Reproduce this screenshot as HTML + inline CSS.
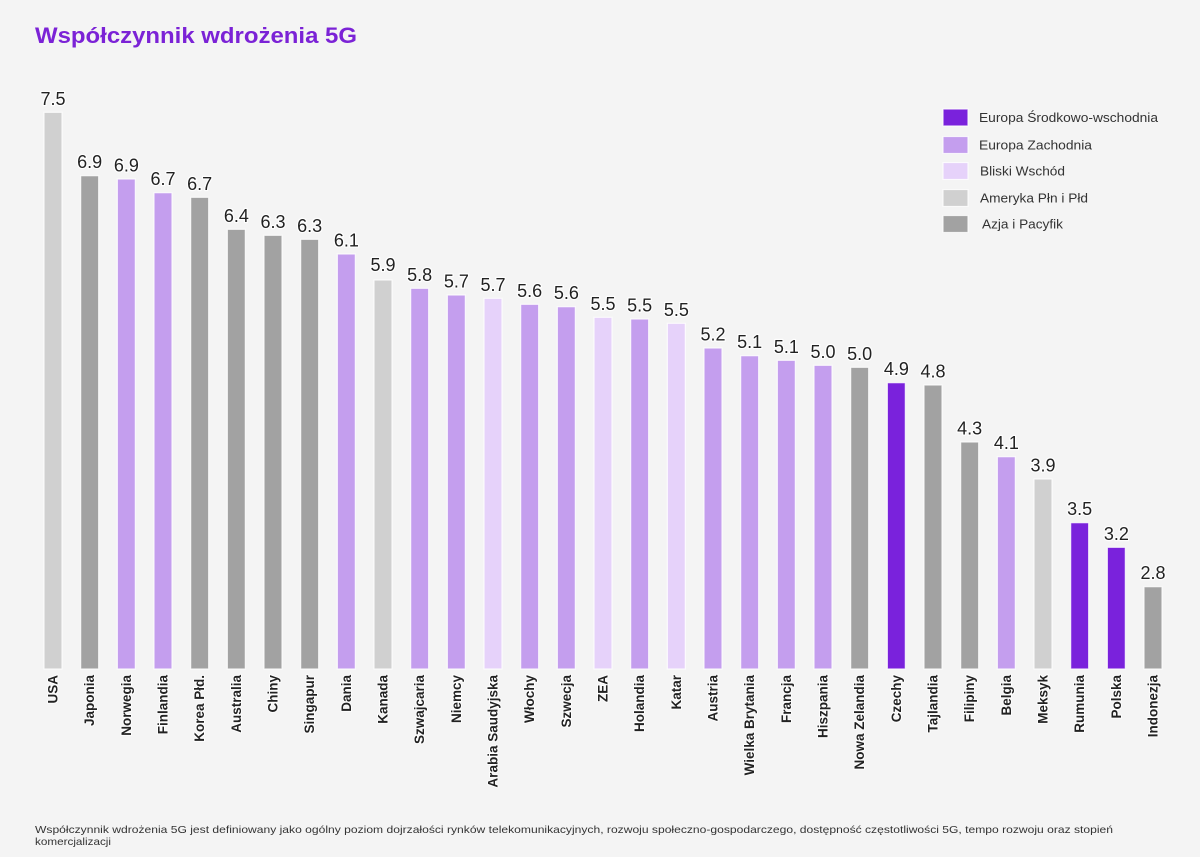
<!DOCTYPE html>
<html>
<head>
<meta charset="utf-8">
<style>
  html, body { margin: 0; padding: 0; background: #f4f4f4; }
  svg { display: block; }
  .t { font-family: "Liberation Sans", Arial, sans-serif; }
  .v { font-size: 18px; fill: #222; text-anchor: middle; stroke: #fff; stroke-width: 2.5px; stroke-opacity: 0.85; paint-order: stroke; stroke-linejoin: round; }
  .c { font-size: 13.5px; font-weight: bold; fill: #222; text-anchor: end; stroke: #fff; stroke-width: 2px; stroke-opacity: 0.8; paint-order: stroke; stroke-linejoin: round; }
  .lg { font-size: 12.5px; fill: #333; }
  .fn { font-size: 10.5px; fill: #333; }
  .srod { fill: #7a22dc; }
  .zach { fill: #c49eee; }
  .blis { fill: #e6d2fa; }
  .amer { fill: #d0d0d0; }
  .azja { fill: #a2a2a2; }
  .bar { stroke: #ffffff; stroke-width: 1.2px; stroke-opacity: 0.8; }
</style>
</head>
<body>
<svg width="1200" height="857" viewBox="0 0 1200 857" xmlns="http://www.w3.org/2000/svg">
  <rect x="0" y="0" width="1200" height="857" fill="#f4f4f4"/>

  <!-- Title -->
  <text class="t" x="35" y="43" font-size="22" font-weight="bold" fill="#7b22d6" textLength="322" lengthAdjust="spacingAndGlyphs">Współczynnik wdrożenia 5G</text>

  <!-- Bars -->
  <g class="bar">
    <rect class="amer" x="44" y="112.3" width="18" height="556.7"/>
    <rect class="azja" x="80.67" y="175.7" width="18" height="493.3"/>
    <rect class="zach" x="117.33" y="179" width="18" height="490"/>
    <rect class="zach" x="154" y="192.7" width="18" height="476.3"/>
    <rect class="azja" x="190.67" y="197.3" width="18" height="471.7"/>
    <rect class="azja" x="227.33" y="229.3" width="18" height="439.7"/>
    <rect class="azja" x="264" y="235.3" width="18" height="433.7"/>
    <rect class="azja" x="300.67" y="239.3" width="18" height="429.7"/>
    <rect class="zach" x="337.33" y="254" width="18" height="415"/>
    <rect class="amer" x="374" y="280" width="18" height="389"/>
    <rect class="zach" x="410.67" y="288.3" width="18" height="380.7"/>
    <rect class="zach" x="447.33" y="295" width="18" height="374"/>
    <rect class="blis" x="484" y="298.3" width="18" height="370.7"/>
    <rect class="zach" x="520.67" y="304.3" width="18" height="364.7"/>
    <rect class="zach" x="557.33" y="306.7" width="18" height="362.3"/>
    <rect class="blis" x="594" y="317.3" width="18" height="351.7"/>
    <rect class="zach" x="630.67" y="319" width="18" height="350"/>
    <rect class="blis" x="667.33" y="323.3" width="18" height="345.7"/>
    <rect class="zach" x="704" y="348" width="18" height="321"/>
    <rect class="zach" x="740.67" y="355.7" width="18" height="313.3"/>
    <rect class="zach" x="777.33" y="360.3" width="18" height="308.7"/>
    <rect class="zach" x="814" y="365.3" width="18" height="303.7"/>
    <rect class="azja" x="850.67" y="367.3" width="18" height="301.7"/>
    <rect class="srod" x="887.33" y="382.7" width="18" height="286.3"/>
    <rect class="azja" x="924" y="385" width="18" height="284"/>
    <rect class="azja" x="960.67" y="442" width="18" height="227"/>
    <rect class="zach" x="997.33" y="456.7" width="18" height="212.3"/>
    <rect class="amer" x="1034" y="479" width="18" height="190"/>
    <rect class="srod" x="1070.67" y="522.7" width="18" height="146.3"/>
    <rect class="srod" x="1107.33" y="547.3" width="18" height="121.7"/>
    <rect class="azja" x="1144" y="586.7" width="18" height="82.3"/>
  </g>

  <!-- Value labels -->
  <g class="t v">
    <text x="53" y="104.8">7.5</text>
    <text x="89.67" y="168.2">6.9</text>
    <text x="126.33" y="171.5">6.9</text>
    <text x="163" y="185.2">6.7</text>
    <text x="199.67" y="189.8">6.7</text>
    <text x="236.33" y="221.8">6.4</text>
    <text x="273" y="227.8">6.3</text>
    <text x="309.67" y="231.8">6.3</text>
    <text x="346.33" y="246.5">6.1</text>
    <text x="383" y="271">5.9</text>
    <text x="419.67" y="280.8">5.8</text>
    <text x="456.33" y="287.5">5.7</text>
    <text x="493" y="290.8">5.7</text>
    <text x="529.67" y="296.8">5.6</text>
    <text x="566.33" y="299.2">5.6</text>
    <text x="603" y="309.8">5.5</text>
    <text x="639.67" y="311.5">5.5</text>
    <text x="676.33" y="315.8">5.5</text>
    <text x="713" y="340.5">5.2</text>
    <text x="749.67" y="348.2">5.1</text>
    <text x="786.33" y="352.8">5.1</text>
    <text x="823" y="357.8">5.0</text>
    <text x="859.67" y="359.8">5.0</text>
    <text x="896.33" y="375.2">4.9</text>
    <text x="933" y="377.5">4.8</text>
    <text x="969.67" y="434.5">4.3</text>
    <text x="1006.33" y="449.2">4.1</text>
    <text x="1043" y="471.5">3.9</text>
    <text x="1079.67" y="515.2">3.5</text>
    <text x="1116.33" y="539.8">3.2</text>
    <text x="1153" y="579.2">2.8</text>
  </g>

  <!-- Category labels -->
  <g class="t c">
    <text transform="translate(57.5,675) rotate(-90)">USA</text>
    <text transform="translate(94.17,675) rotate(-90)">Japonia</text>
    <text transform="translate(130.83,675) rotate(-90)">Norwegia</text>
    <text transform="translate(167.5,675) rotate(-90)">Finlandia</text>
    <text transform="translate(204.17,675) rotate(-90)">Korea Płd.</text>
    <text transform="translate(240.83,675) rotate(-90)">Australia</text>
    <text transform="translate(277.5,675) rotate(-90)">Chiny</text>
    <text transform="translate(314.17,675) rotate(-90)">Singapur</text>
    <text transform="translate(350.83,675) rotate(-90)">Dania</text>
    <text transform="translate(387.5,675) rotate(-90)">Kanada</text>
    <text transform="translate(424.17,675) rotate(-90)">Szwajcaria</text>
    <text transform="translate(460.83,675) rotate(-90)">Niemcy</text>
    <text transform="translate(497.5,675) rotate(-90)">Arabia Saudyjska</text>
    <text transform="translate(534.17,675) rotate(-90)">Włochy</text>
    <text transform="translate(570.83,675) rotate(-90)">Szwecja</text>
    <text transform="translate(607.5,675) rotate(-90)">ZEA</text>
    <text transform="translate(644.17,675) rotate(-90)">Holandia</text>
    <text transform="translate(680.83,675) rotate(-90)">Katar</text>
    <text transform="translate(717.5,675) rotate(-90)">Austria</text>
    <text transform="translate(754.17,675) rotate(-90)">Wielka Brytania</text>
    <text transform="translate(790.83,675) rotate(-90)">Francja</text>
    <text transform="translate(827.5,675) rotate(-90)">Hiszpania</text>
    <text transform="translate(864.17,675) rotate(-90)">Nowa Zelandia</text>
    <text transform="translate(900.83,675) rotate(-90)">Czechy</text>
    <text transform="translate(937.5,675) rotate(-90)">Tajlandia</text>
    <text transform="translate(974.17,675) rotate(-90)">Filipiny</text>
    <text transform="translate(1010.83,675) rotate(-90)">Belgia</text>
    <text transform="translate(1047.5,675) rotate(-90)">Meksyk</text>
    <text transform="translate(1084.17,675) rotate(-90)">Rumunia</text>
    <text transform="translate(1120.83,675) rotate(-90)">Polska</text>
    <text transform="translate(1157.5,675) rotate(-90)">Indonezja</text>
  </g>

  <!-- Legend -->
  <g class="bar">
    <rect class="srod" x="943" y="109" width="25" height="17"/>
    <rect class="zach" x="943" y="136.5" width="25" height="17"/>
    <rect class="blis" x="943" y="162.5" width="25" height="17"/>
    <rect class="amer" x="943" y="189.5" width="25" height="17"/>
    <rect class="azja" x="943" y="215.5" width="25" height="17"/>
  </g>
  <g class="t lg">
    <text x="979" y="122" textLength="179" lengthAdjust="spacingAndGlyphs">Europa Środkowo-wschodnia</text>
    <text x="979" y="149.5" textLength="113" lengthAdjust="spacingAndGlyphs">Europa Zachodnia</text>
    <text x="980" y="175.5" textLength="85" lengthAdjust="spacingAndGlyphs">Bliski Wschód</text>
    <text x="980" y="202.5" textLength="108" lengthAdjust="spacingAndGlyphs">Ameryka Płn i Płd</text>
    <text x="982" y="228.5" textLength="81" lengthAdjust="spacingAndGlyphs">Azja i Pacyfik</text>
  </g>

  <!-- Footnote -->
  <g class="t fn">
    <text x="35" y="833" textLength="1078" lengthAdjust="spacingAndGlyphs">Współczynnik wdrożenia 5G jest definiowany jako ogólny poziom dojrzałości rynków telekomunikacyjnych, rozwoju społeczno-gospodarczego, dostępność częstotliwości 5G, tempo rozwoju oraz stopień</text>
    <text x="35" y="845" textLength="76" lengthAdjust="spacingAndGlyphs">komercjalizacji</text>
  </g>
</svg>
</body>
</html>
